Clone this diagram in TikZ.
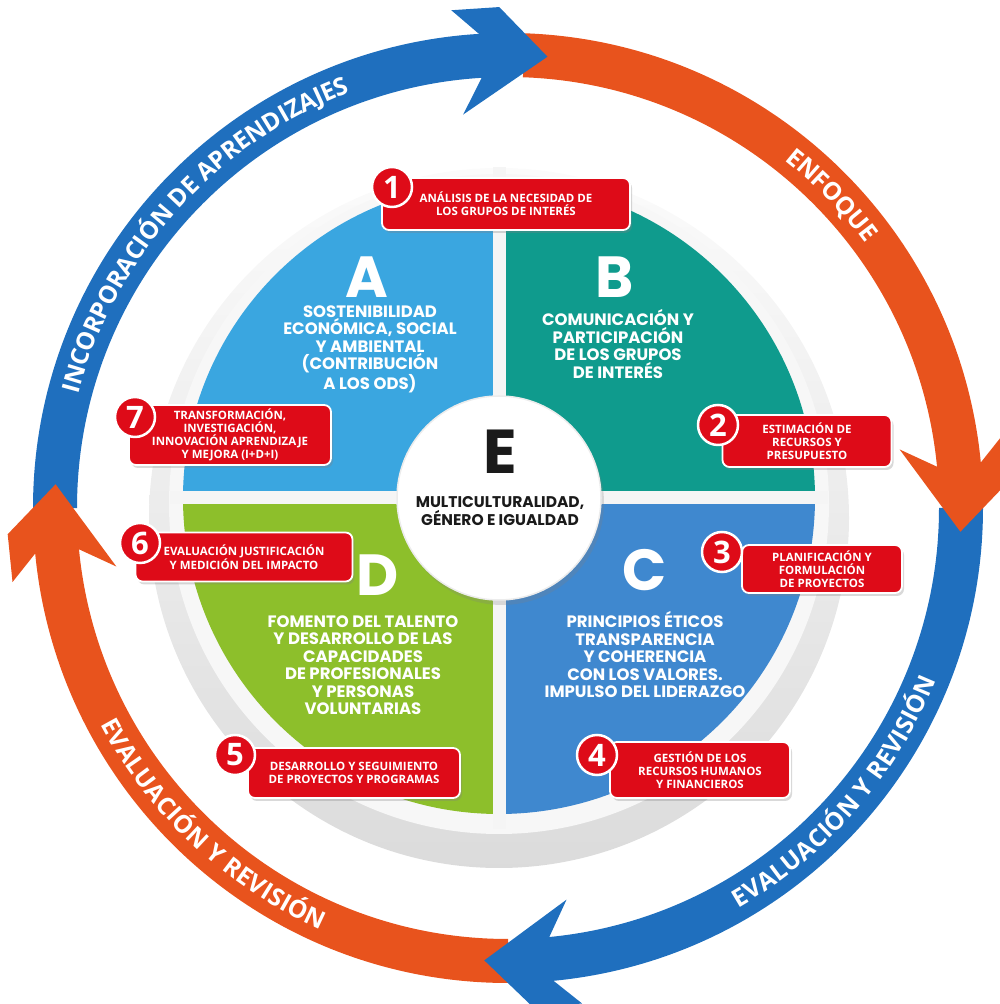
\documentclass[tikz,border=0pt]{standalone}
\usepackage{fontspec}
\usetikzlibrary{decorations.text,shadows}
\newfontfamily\opfont{Open Sans}
\newfontfamily\popfont{Poppins}
\definecolor{ringblue}{HTML}{1F6FBE}
\definecolor{ringorange}{HTML}{E8531D}
\definecolor{quadA}{HTML}{3AA6E0}
\definecolor{quadB}{HTML}{0F9B8D}
\definecolor{quadC}{HTML}{3F88CF}
\definecolor{quadD}{HTML}{8DBF2B}
\definecolor{lblred}{HTML}{DE0B18}
\definecolor{darktext}{HTML}{1A1A1A}
\tikzset{
  band/.style={line width=44pt},
  lbl/.style={rectangle,rounded corners=7pt,fill=lblred,draw=white,line width=1.8pt,text=white,align=center,inner sep=2pt,
    font=\opfont\bfseries\fontsize{11.5}{13}\selectfont,drop shadow={opacity=.3,shadow xshift=2pt,shadow yshift=-3pt}},
  num/.style={circle,fill=lblred,draw=white,line width=2.5pt,minimum size=40pt,inner sep=0pt,text=white,
    font=\opfont\bfseries\fontsize{31}{31}\selectfont},
  quadletter/.style={text=white,font=\popfont\bfseries\fontsize{58}{58}\selectfont},
  quadtext/.style={text=white,align=center,font=\popfont\bfseries\fontsize{16.5}{17.5}\selectfont},
  ringtext/.style={decorate,decoration={text along path,text align=center,raise=-8.5pt,
    text={|\opfont\bfseries\fontsize{24.5}{24.5}\selectfont\color{white}|#1}}}
}
\begin{document}
\begin{tikzpicture}[x=1pt,y=1pt]
\useasboundingbox (0,0) rectangle (1000,1004);
\coordinate (dc) at (499,506);

% disc
\shade[top color=gray!3,bottom color=gray!28] (499,486) circle[radius=350];
\fill[gray!6] (499,500) circle[radius=330];
\fill[quadA] (dc) -- ++(90:316) arc[start angle=90,end angle=180,radius=316] -- cycle;
\fill[quadB] (dc) -- ++(0:316) arc[start angle=0,end angle=90,radius=316] -- cycle;
\fill[quadC] (dc) -- ++(270:316) arc[start angle=270,end angle=360,radius=316] -- cycle;
\fill[quadD] (dc) -- ++(180:316) arc[start angle=180,end angle=270,radius=316] -- cycle;
\draw[gray!8,line width=13pt] (170,506) -- (828,506) (499,175) -- (499,837);
\node[circle,fill=white,draw=gray!15,line width=1.5pt,minimum size=204pt,drop shadow={opacity=.25,shadow xshift=3pt,shadow yshift=-5pt}] (ecirc) at (dc) {};

\node[quadletter] (qa) at (367,727) {A};
\node[quadletter] (qb) at (615,727) {B};
\node[quadletter] (qc) at (645,434) {C};
\node[quadletter] (qd) at (378,429) {D};
\node[quadletter,text=darktext,font=\popfont\bfseries\fontsize{62}{62}\selectfont] (qe) at (500,552) {E};
\node[quadtext] (ta) at (370,655) {SOSTENIBILIDAD\\ECONÓMICA, SOCIAL\\Y AMBIENTAL\\(CONTRIBUCIÓN\\A LOS ODS)};
\node[quadtext] (tb) at (618,660) {COMUNICACIÓN Y\\PARTICIPACIÓN\\DE LOS GRUPOS\\DE INTERÉS};
\node[quadtext] (tc) at (645,349) {PRINCIPIOS ÉTICOS\\TRANSPARENCIA\\Y COHERENCIA\\CON LOS VALORES.\\IMPULSO DEL LIDERAZGO};
\node[quadtext] (td) at (363,339) {FOMENTO DEL TALENTO\\Y DESARROLLO DE LAS\\CAPACIDADES\\DE PROFESIONALES\\Y PERSONAS\\VOLUNTARIAS};
\node[quadtext,text=darktext,font=\popfont\bfseries\fontsize{15.5}{17}\selectfont] (te) at (500,493) {MULTICULTURALIDAD,\\GÉNERO E IGUALDAD};

% ring
\begin{scope}[shift={(508,496)}]
  \draw[band,ringblue] (180:453) arc[start angle=180,end angle=93,radius=453];
  \draw[band,ringorange] (88:453) arc[start angle=88,end angle=5,radius=453];
  \draw[band,ringblue] (0:453) arc[start angle=0,end angle=-85,radius=453];
  \draw[band,ringorange] (-90:453) arc[start angle=-90,end angle=-175,radius=453];
  \foreach \t/\c in {85/ringblue,-3/ringorange,-93/ringblue,177/ringorange}
    \fill[\c] (\t:453) -- ({\t+6}:501) -- ({\t+11.5}:501) -- ({\t+8.5}:475) -- ({\t+8.5}:431) -- ({\t+11.5}:396) -- cycle;
  \path[ringtext={INCORPORACIÓN DE APRENDIZAJES}] (180:453) arc[start angle=180,end angle=96,radius=453];
  \path[ringtext={ENFOQUE}] (70:453) arc[start angle=70,end angle=18,radius=453];
  \path[ringtext={EVALUACIÓN Y REVISIÓN}] (-84:453) arc[start angle=-84,end angle=2,radius=453];
  \path[ringtext={EVALUACIÓN Y REVISIÓN}] (184:453) arc[start angle=184,end angle=270,radius=453];
\end{scope}

% labels
\node[lbl,minimum width=248pt,minimum height=52pt] (l1) at (506,800) {ANÁLISIS DE LA NECESIDAD DE\\LOS GRUPOS DE INTERÉS};
\node[num] (n1) at (392,817) {1};
\node[lbl,minimum width=169pt,minimum height=52pt] (l2) at (807,563) {ESTIMACIÓN DE\\RECURSOS Y\\PRESUPUESTO};
\node[num] (n2) at (718,579) {2};
\node[lbl,minimum width=160pt,minimum height=48pt] (l3) at (822,435) {PLANIFICACIÓN Y\\FORMULACIÓN\\DE PROYECTOS};
\node[num] (n3) at (722,452) {3};
\node[lbl,minimum width=180pt,minimum height=56pt] (l4) at (700,234) {GESTIÓN DE LOS\\RECURSOS HUMANOS\\Y FINANCIEROS};
\node[num] (n4) at (597,249) {4};
\node[lbl,minimum width=212pt,minimum height=50pt] (l5) at (354,231) {DESARROLLO Y SEGUIMIENTO\\DE PROYECTOS Y PROGRAMAS};
\node[num] (n5) at (235,249) {5};
\node[lbl,minimum width=217pt,minimum height=49pt] (l6) at (244,447) {EVALUACIÓN JUSTIFICACIÓN\\Y MEDICIÓN DEL IMPACTO};
\node[num] (n6) at (140,461) {6};
\node[lbl,minimum width=202pt,minimum height=60pt] (l7) at (230,569) {TRANSFORMACIÓN,\\INVESTIGACIÓN,\\INNOVACIÓN APRENDIZAJE\\Y MEJORA (I+D+I)};
\node[num] (n7) at (135,587) {7};
\end{tikzpicture}
\end{document}
